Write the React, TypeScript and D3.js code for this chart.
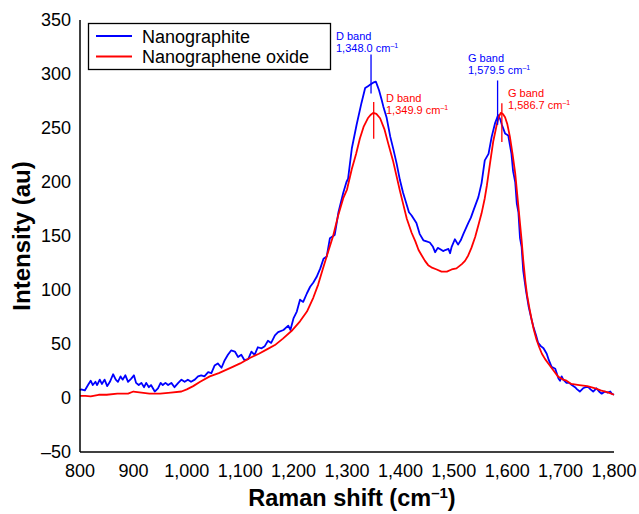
import React from "react";
import * as d3 from "d3";

const blueX = [800,802,809,815,820,824,829,832,837,841,846,851,856,862,867,871,876,880,885,890,896,901,905,910,915,920,924,929,933,940,946,951,955,960,965,971,977,984,990,996,1002,1008,1015,1021,1027,1033,1040,1046,1052,1058,1065,1071,1077,1083,1090,1096,1102,1108,1115,1121,1127,1133,1140,1146,1152,1158,1165,1171,1181,1190,1194,1200,1206,1212,1218,1225,1231,1237,1243,1250,1256,1262,1268,1277,1284,1293,1299,1302,1309,1318,1327,1334,1340,1343,1349,1354,1357,1360,1365,1368,1374,1381,1387,1393,1399,1405,1410,1416,1421,1430,1436,1443,1449,1455,1461,1465,1470,1474,1480,1484,1490,1493,1496,1502,1508,1513,1518,1527,1532,1537,1546,1552,1558,1565,1571,1577,1583,1587,1590,1596,1602,1608,1611,1615,1618,1621,1624,1627,1630,1635,1640,1645,1649,1654,1658,1663,1668,1674,1678,1683,1690,1696,1699,1702,1705,1711,1716,1721,1727,1731,1736,1742,1747,1752,1756,1761,1767,1772,1777,1783,1788,1793,1796,1800];
const blueY = [7,8,7,12,16,12,15,12,17,13,17,11,15,22,17,15,20,17,21,15,18,21,14,12,14,10,14,10,12,6,9,14,12,14,12,14,10,14,17,15,17,15,17,20,21,20,24,23,30,32,28,35,40,44,43,38,40,35,36,43,40,47,46,48,53,51,58,61,63,67,63,74,80,91,89,97,103,107,112,120,129,131,148,151,172,190,200,203,231,253,273,287,289,290,292,293,289,285,276,270,260,242,230,217,202,190,182,172,169,162,152,146,145,144,140,135,139,138,136,137,138,134,140,147,142,146,152,162,167,174,186,199,220,226,242,254,262,258,253,245,243,226,210,200,180,172,148,140,118,100,85,74,66,58,51,48,46,41,35,29,27,18,16,20,17,14,14,12,10,8,6,9,10,10,8,6,9,6,4,6,5,6,4,3];

const redX = [800,810,820,835,850,870,890,900,915,930,950,970,990,1000,1012,1025,1043,1060,1087,1100,1118,1135,1150,1165,1180,1196,1212,1225,1237,1246,1255,1265,1274,1284,1293,1300,1309,1317,1324,1331,1339,1344,1349,1355,1362,1370,1377,1386,1393,1399,1405,1412,1421,1428,1434,1440,1446,1452,1458,1468,1477,1487,1496,1505,1515,1521,1527,1533,1540,1546,1552,1558,1562,1568,1574,1580,1584,1588,1592,1596,1600,1605,1610,1615,1621,1627,1630,1634,1637,1642,1646,1650,1655,1660,1665,1671,1677,1686,1695,1705,1711,1720,1735,1750,1765,1775,1790,1800];
const redY = [2,2,1.5,3,3,4,4,6,5,4,4,5,6,8,11,15,20,23,29,32,37,41,45,49,55,62,71,80,93,105,120,136,150,170,185,193,212,226,240,251,259,262,264,263,259,249,236,220,205,192,180,166,153,145,137,132,127,123,121,119,117,117,119,120,124,127,132,139,149,160,171,185,197,218,238,252,260,264,263,260,254,242,226,208,177,146,128,108,96,82,72,63,54,47,41,36,32,26,20,17,16,13,12,11,9,7,5,3];

const xTicks = [800,900,1000,1100,1200,1300,1400,1500,1600,1700,1800];
const yTicks = [-50,0,50,100,150,200,250,300,350];

const seriesNames = ["Nanographite", "Nanographene oxide"];
const seriesColors = ["#0000ff", "#ff0000"];

const bandNotes = [
  { name: "D band", value: "1,348.0", at: 1345, series: 0, top: 318, bottom: 282 },
  { name: "D band", value: "1,349.9", at: 1350, series: 1, top: 274, bottom: 240 },
  { name: "G band", value: "1,579.5", at: 1582, series: 0, top: 294, bottom: 253 },
  { name: "G band", value: "1,586.7", at: 1590, series: 1, top: 273, bottom: 237 },
];

const W = 639, H = 514;
const FONT = "'Liberation Sans', Arial, Helvetica, sans-serif";

export default function App() {
  const x = d3.scaleLinear().domain([800, 1800]).range([80, 614]);
  const y = d3.scaleLinear().domain([-50, 350]).range([452, 20]);
  const line = d3.line<[number, number]>().x(d => x(d[0])).y(d => y(d[1]));
  const blue = blueX.map((v, i) => [v, blueY[i]] as [number, number]);
  const red = redX.map((v, i) => [v, redY[i]] as [number, number]);
  const fmt = d3.format(",");

  const noteText = [
    { tx: 336, ty: 40 },
    { tx: 386, ty: 102 },
    { tx: 468, ty: 62 },
    { tx: 508, ty: 97 },
  ];

  return (
    <svg width={W} height={H} style={{ position: "absolute", left: 0, top: 0, background: "#fff" }} fontFamily={FONT}>
      <rect width={W} height={H} fill="#fff" />
      <path d={line(blue) || ""} fill="none" stroke={seriesColors[0]} strokeWidth={1.8} strokeLinejoin="round" />
      <path d={line(red) || ""} fill="none" stroke={seriesColors[1]} strokeWidth={1.8} strokeLinejoin="round" />

      {bandNotes.map((n, i) => {
        const L = noteText[i];
        const c = seriesColors[n.series];
        return (
          <g key={i}>
            <line x1={x(n.at)} x2={x(n.at)} y1={y(n.top)} y2={y(n.bottom)} stroke={c} strokeWidth={1.3} />
            <text x={L.tx} y={L.ty} fontSize={11} fill={c}>{n.name}</text>
            <text x={L.tx} y={L.ty + 12} fontSize={11} fill={c}>
              {n.value} cm<tspan fontSize={7} dy={-4}>–1</tspan>
            </text>
          </g>
        );
      })}

      <line x1={80} x2={80} y1={20} y2={452} stroke="#000" strokeWidth={1.5} />
      <line x1={80} x2={614} y1={452} y2={452} stroke="#000" strokeWidth={1.5} />

      {yTicks.map(t => (
        <text key={t} x={71} y={y(t)} dy="0.35em" textAnchor="end" fontSize={18} fill="#000">
          {t < 0 ? "–" + Math.abs(t) : t}
        </text>
      ))}
      {xTicks.map(t => (
        <text key={t} x={x(t)} y={477} textAnchor="middle" fontSize={18} fill="#000">{fmt(t)}</text>
      ))}

      <text x={352} y={506} textAnchor="middle" fontSize={23.5} fontWeight="bold" fill="#000">
        Raman shift (cm<tspan fontSize={15} dy={-8}>–1</tspan><tspan dy={8}>)</tspan>
      </text>
      <text transform="translate(30,236) rotate(-90)" textAnchor="middle" fontSize={24} fontWeight="bold" fill="#000">
        Intensity (au)
      </text>

      <g>
        <rect x={88.5} y={23.5} width={242} height={46} fill="#fff" stroke="#000" strokeWidth={1.3} />
        {seriesNames.map((s, i) => (
          <g key={s}>
            <line x1={96} x2={132} y1={36 + i * 20.5} y2={36 + i * 20.5} stroke={seriesColors[i]} strokeWidth={2} />
            <text x={142} y={42.5 + i * 20.5} fontSize={18} fill="#000">{s}</text>
          </g>
        ))}
      </g>
    </svg>
  );
}
